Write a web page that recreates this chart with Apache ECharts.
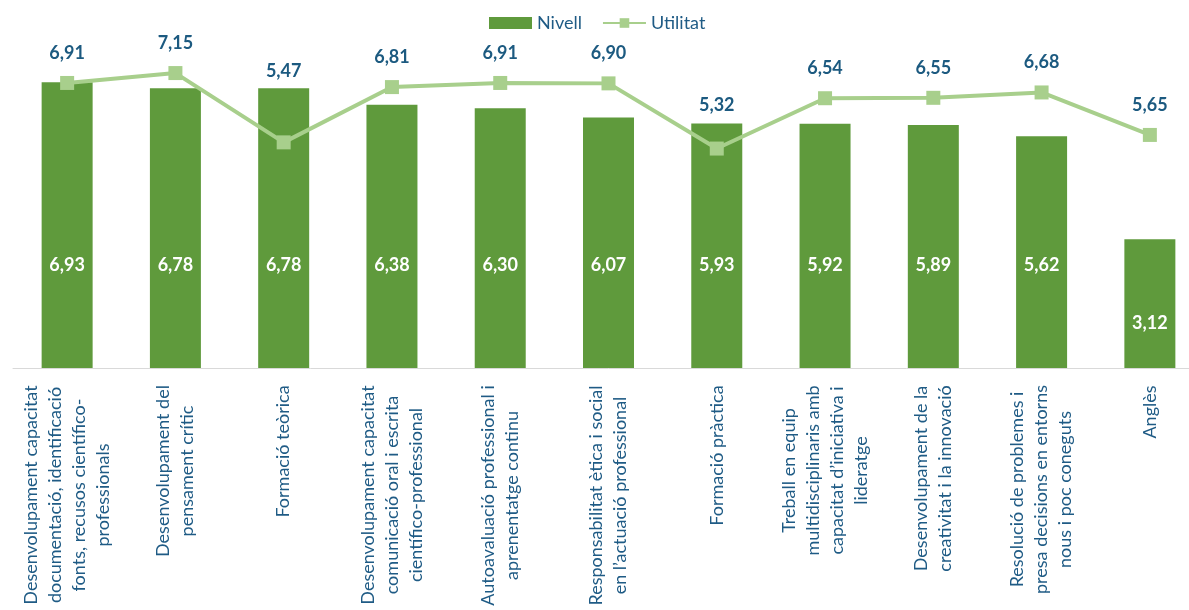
<!DOCTYPE html>
<html>
<head>
<meta charset="utf-8">
<script src="https://cdn.jsdelivr.net/npm/echarts@6/dist/echarts.min.js"></script>
<style>
html,body{margin:0;padding:0;background:#fff;overflow:hidden;width:1189px;height:610px;}
#chart{width:1205px;height:610px;}
</style>
</head>
<body>
<div id="chart"></div>
<script>
const categories = [
  "Desenvolupament capacitat\ndocumentació, identificació\nfonts, recusos científico-\nprofessionals",
  "Desenvolupament del\npensament crític",
  "Formació teòrica",
  "Desenvolupament capacitat\ncomunicació oral i escrita\ncientífico-professional",
  "Autoavaluació professional i\naprenentatge continu",
  "Responsabilitat ètica i social\nen l’actuació professional",
  "Formació pràctica",
  "Treball en equip\nmultidisciplinaris amb\ncapacitat d’iniciativa i\nlideratge",
  "Desenvolupament de la\ncreativitat i la innovació",
  "Resolució de problemes i\npresa decisions en entorns\nnous i poc coneguts",
  "Anglès"
];
const nivell = [6.93, 6.78, 6.78, 6.38, 6.30, 6.07, 5.93, 5.92, 5.89, 5.62, 3.12];
const utilitat = [6.91, 7.15, 5.47, 6.81, 6.91, 6.90, 5.32, 6.54, 6.55, 6.68, 5.65];

const FONT = 'Lato';
const AX_SIZE = 18;
const textBlue = '#1f5b85';
const valBlue = '#1c5a80';

const ctx = document.createElement('canvas').getContext('2d');
ctx.font = AX_SIZE + 'px ' + FONT;
const rich = {};
categories.forEach((c, i) => {
  const w = Math.max(...c.split('\n').map(l => ctx.measureText(l).width));
  rich['w' + i] = {width: Math.ceil(w) + 2, align: 'center', fontFamily: FONT, fontSize: AX_SIZE, color: textBlue, lineHeight: 24};
});

const fmt = v => v.toFixed(2).replace('.', ',');
// label offsets as placed in the reference (styling only)
const lineLabelDist = [14, 14, 55, 14, 14, 14, 27, 14, 14, 14, 14];

const chart = echarts.init(document.getElementById('chart'));
chart.setOption({
  animation: false,
  textStyle: {fontFamily: FONT},
  legend: {
    top: 9,
    left: 484,
    itemGap: 20,
    itemWidth: 43,
    itemHeight: 12,
    textStyle: {color: textBlue, fontSize: 18, fontFamily: FONT},
    data: [
      {name: 'Nivell', icon: 'rect'},
      {name: 'Utilitat'}
    ]
  },
  grid: {left: 13, right: 1, top: 38, bottom: 238, containLabel: false},
  xAxis: {
    type: 'category',
    data: categories,
    axisLine: {lineStyle: {color: '#d9d9d9', width: 1}},
    axisTick: {show: false},
    axisLabel: {
      interval: 0,
      rotate: 90,
      margin: 16,
      formatter: (v, i) => v.split('\n').map(l => '{w' + i + '|' + l + '}').join('\n'),
      rich: rich
    }
  },
  yAxis: {
    type: 'value',
    min: 0,
    max: 8,
    show: false,
    splitLine: {show: false}
  },
  series: [
    {
      name: 'Nivell',
      type: 'bar',
      data: nivell.map((v, i) => i === nivell.length - 1 ? {value: v, label: {distance: 36}} : v),
      barWidth: 51,
      itemStyle: {color: '#5f9a3c'},
      label: {
        show: true,
        position: 'insideBottom',
        distance: 94,
        color: '#ffffff',
        fontWeight: 'bold',
        fontSize: 18,
        fontFamily: FONT,
        formatter: p => fmt(p.value)
      },
      z: 1
    },
    {
      name: 'Utilitat',
      type: 'line',
      data: utilitat.map((v, i) => ({value: v, label: {distance: lineLabelDist[i]}})),
      symbol: 'rect',
      symbolSize: 14,
      lineStyle: {color: '#a8cf8c', width: 4},
      itemStyle: {color: '#a8cf8c'},
      label: {
        show: true,
        position: 'top',
        color: valBlue,
        fontWeight: 'bold',
        fontSize: 18,
        fontFamily: FONT,
        formatter: p => fmt(p.value)
      },
      z: 3
    }
  ]
});
</script>
</body>
</html>
